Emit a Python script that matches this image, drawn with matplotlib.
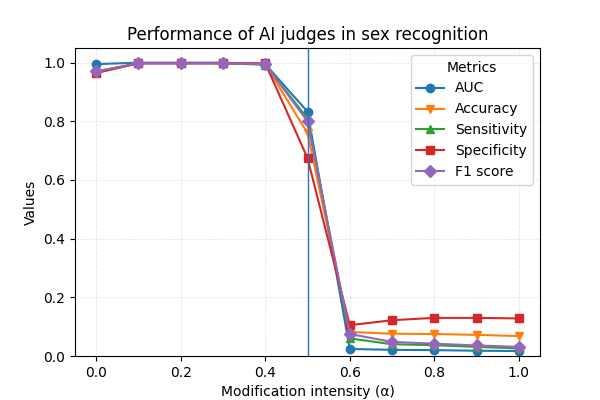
import numpy as np
import matplotlib
matplotlib.use('Agg')
import matplotlib.pyplot as plt

alpha = [0.0, 0.1, 0.2, 0.3, 0.4, 0.5, 0.6, 0.7, 0.8, 0.9, 1.0]
auc = [0.995, 1.0, 1.0, 1.0, 0.995, 0.833, 0.024, 0.021, 0.020, 0.018, 0.017]
accuracy = [0.965, 0.998, 0.998, 0.998, 0.995, 0.76, 0.082, 0.076, 0.075, 0.072, 0.068]
sensitivity = [0.97, 0.998, 0.998, 0.998, 0.993, 0.81, 0.060, 0.040, 0.037, 0.031, 0.026]
specificity = [0.965, 0.998, 0.998, 0.998, 0.998, 0.675, 0.105, 0.122, 0.130, 0.130, 0.128]
f1 = [0.97, 0.998, 0.998, 0.998, 0.995, 0.80, 0.075, 0.048, 0.042, 0.036, 0.031]

fig, ax = plt.subplots(figsize=(6, 4), dpi=100)
ax.plot(alpha, auc, marker='o', label='AUC')
ax.plot(alpha, accuracy, marker='v', label='Accuracy')
ax.plot(alpha, sensitivity, marker='^', label='Sensitivity')
ax.plot(alpha, specificity, marker='s', label='Specificity')
ax.plot(alpha, f1, marker='D', label='F1 score')
ax.axvline(x=0.5, color='tab:blue', linewidth=1)

ax.set_ylim(0, 1.05)
ax.set_xlabel('Modification intensity (α)')
ax.set_ylabel('Values')
ax.set_title('Performance of AI judges in sex recognition')
ax.grid(True, linestyle='--', alpha=0.3, linewidth=0.6)
ax.legend(title='Metrics', loc='upper right')
fig.savefig('out.png')
